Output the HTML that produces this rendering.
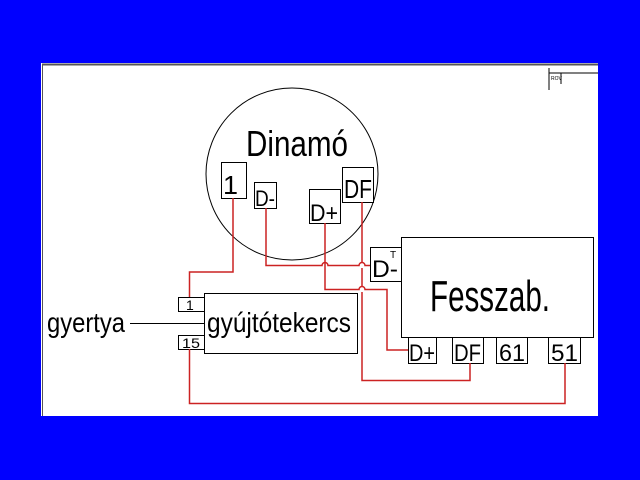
<!DOCTYPE html>
<html><head><style>body{margin:0;background:#0000ff;}svg{display:block}</style></head><body>
<svg width="640" height="480" xmlns="http://www.w3.org/2000/svg" font-family="Liberation Sans, sans-serif">
<rect width="640" height="480" fill="#0000ff"/>
<rect x="41" y="63" width="557" height="353" fill="#fff"/>
<line x1="42" y1="64.5" x2="598" y2="64.5" stroke="#555" stroke-width="2"/>
<line x1="42.5" y1="64" x2="42.5" y2="416" stroke="#555" stroke-width="1"/>
<g stroke="#000" stroke-width="1" fill="none">
<line x1="549" y1="73" x2="598" y2="73"/><line x1="549" y1="68" x2="549" y2="90"/><line x1="561" y1="73" x2="561" y2="84"/>
<circle cx="292" cy="174" r="86"/>
<rect x="221.5" y="162.5" width="25" height="36" fill="#fff"/>
<rect x="254.5" y="182.5" width="22" height="26" fill="#fff"/>
<rect x="309.5" y="189.5" width="31" height="34" fill="#fff"/>
<rect x="342.5" y="167.5" width="31" height="35" fill="#fff"/>
<rect x="401.5" y="237.5" width="192" height="100" fill="#fff"/>
<rect x="370.5" y="247.5" width="31" height="34" fill="#fff"/>
<rect x="408.5" y="337.5" width="28" height="26" fill="#fff"/>
<rect x="452.5" y="337.5" width="31" height="26" fill="#fff"/>
<rect x="496.5" y="337.5" width="31" height="26" fill="#fff"/>
<rect x="548.5" y="337.5" width="32" height="26" fill="#fff"/>
<rect x="204.5" y="293.5" width="153" height="60" fill="#fff"/>
<rect x="178.5" y="297.5" width="26" height="14" fill="#fff"/>
<rect x="178.5" y="335.5" width="26" height="14" fill="#fff"/>
<line x1="130" y1="323.5" x2="204" y2="323.5"/>
</g>
<g stroke="#cc2222" stroke-width="1.5" fill="none">
<path d="M233 198 V272 H189.5 V297"/>
<path d="M266 208 V265.5 H322 a3 3 0 0 1 6 0 H359 a3 3 0 0 1 6 0 H370"/>
<path d="M325 223 V289.5 H359 a3 3 0 0 1 6 0 H387 V350 H408"/>
<path d="M362 202 V262 M362 268 V286 M362 292 V380.5 H470 V363"/>
<path d="M189.5 349 V403.5 H565 V363"/>
</g>
<g fill="#000">
<text x="246" y="156" font-size="36" textLength="102" lengthAdjust="spacingAndGlyphs">Dinamó</text>
<text x="223" y="194" font-size="26" textLength="15" lengthAdjust="spacingAndGlyphs">1</text>
<text x="255" y="206" font-size="22" textLength="20" lengthAdjust="spacingAndGlyphs">D-</text>
<text x="310" y="221" font-size="24" textLength="28" lengthAdjust="spacingAndGlyphs">D+</text>
<text x="344" y="198" font-size="26" textLength="28" lengthAdjust="spacingAndGlyphs">DF</text>
<text x="372" y="277" font-size="24" textLength="26" lengthAdjust="spacingAndGlyphs">D-</text>
<text x="390" y="258" font-size="10">T</text>
<text x="430" y="311" font-size="44" textLength="120" lengthAdjust="spacingAndGlyphs">Fesszab.</text>
<text x="409" y="361" font-size="24" textLength="26" lengthAdjust="spacingAndGlyphs">D+</text>
<text x="454" y="361" font-size="24" textLength="27" lengthAdjust="spacingAndGlyphs">DF</text>
<text x="499" y="361" font-size="24" textLength="26" lengthAdjust="spacingAndGlyphs">61</text>
<text x="551" y="361" font-size="24" textLength="27" lengthAdjust="spacingAndGlyphs">51</text>
<text x="207" y="332" font-size="28" textLength="144" lengthAdjust="spacingAndGlyphs">gyújtótekercs</text>
<text x="47" y="332" font-size="28" textLength="78" lengthAdjust="spacingAndGlyphs">gyertya</text>
<text x="186" y="310" font-size="14">1</text>
<text x="182" y="348" font-size="14" textLength="18" lengthAdjust="spacingAndGlyphs">15</text>
<text x="551" y="80" font-size="5">ROV</text>
</g>
</svg>
</body></html>
